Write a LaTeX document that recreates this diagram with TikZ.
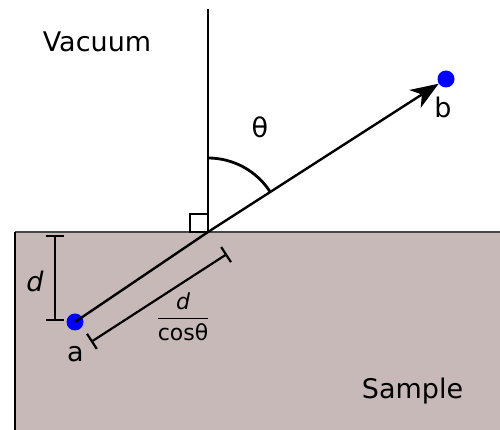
\documentclass[tikz,border=0pt]{standalone}
\usepackage{amsmath}
\usepackage{fontspec}
\setmainfont{DejaVu Sans}
\usetikzlibrary{arrows.meta}
\definecolor{sample}{RGB}{200,185,185}
\definecolor{surface}{RGB}{70,70,70}
\begin{document}
\begin{tikzpicture}[x=1pt, y=1pt,
  dot/.style={circle, fill=blue, inner sep=0pt, minimum size=17pt},
  ray/.style={line width=2.4pt},
  dim/.style={line width=2.2pt, {Bar[width=18pt]}-{Bar[width=18pt]}},
  lbl/.style={font=\fontsize{27}{32}\selectfont, inner sep=0pt, anchor=base}
]
  \useasboundingbox (0,0) rectangle (500,430);

  % sample block
  \fill[sample] (15,0) rectangle (500,198);
  \draw[surface, line width=2.4pt] (15,198) -- (500,198);
  \draw[line width=2.4pt] (15,198) -- (15,0);

  % geometry points
  \coordinate (O) at (208,198);
  \coordinate (top) at (208,421);
  \node[dot] (a) at (75,108) {};
  \node[dot] (b) at (446,351) {};

  % normal and right angle mark
  \draw[line width=2.8pt] (O) -- (top);
  \draw[line width=1.2pt] (190,198) rectangle (208,216);

  % path of the electron
  \draw[ray] (a.center) -- (O);
  \draw[ray, -{Stealth[length=28pt, width=21pt, inset=8pt]}] (O) -- (b);

  % angle
  \draw[line width=2.8pt] (208,272) arc[start angle=90, end angle=33, radius=74];

  % dimensions
  \coordinate (dTop) at (55,195);
  \coordinate (dBot) at (55,109);
  \draw[dim] (dTop) -- (dBot);
  \coordinate (dimA) at (91,88);
  \coordinate (dimB) at (227,176);
  \draw[dim] (dimA) -- (dimB);

  % labels
  \node[lbl] (vac) at (97,378) {Vacuum};
  \node[lbl] (smp) at (412.5,31) {Sample};
  \node[lbl] (th) at (260,292) {θ};
  \node[lbl] (la) at (75.5,68) {a};
  \node[lbl] (lb) at (443,312) {b};
  \node[lbl] (ld) at (35,138) {\textit{d}};
  \node[inner sep=0pt, font=\fontsize{22}{26}\selectfont] (frac) at (183,113)
    {$\genfrac{}{}{1.6pt}{0}{\mbox{\itshape d}}{\mbox{cosθ}}$};
\end{tikzpicture}
\end{document}
